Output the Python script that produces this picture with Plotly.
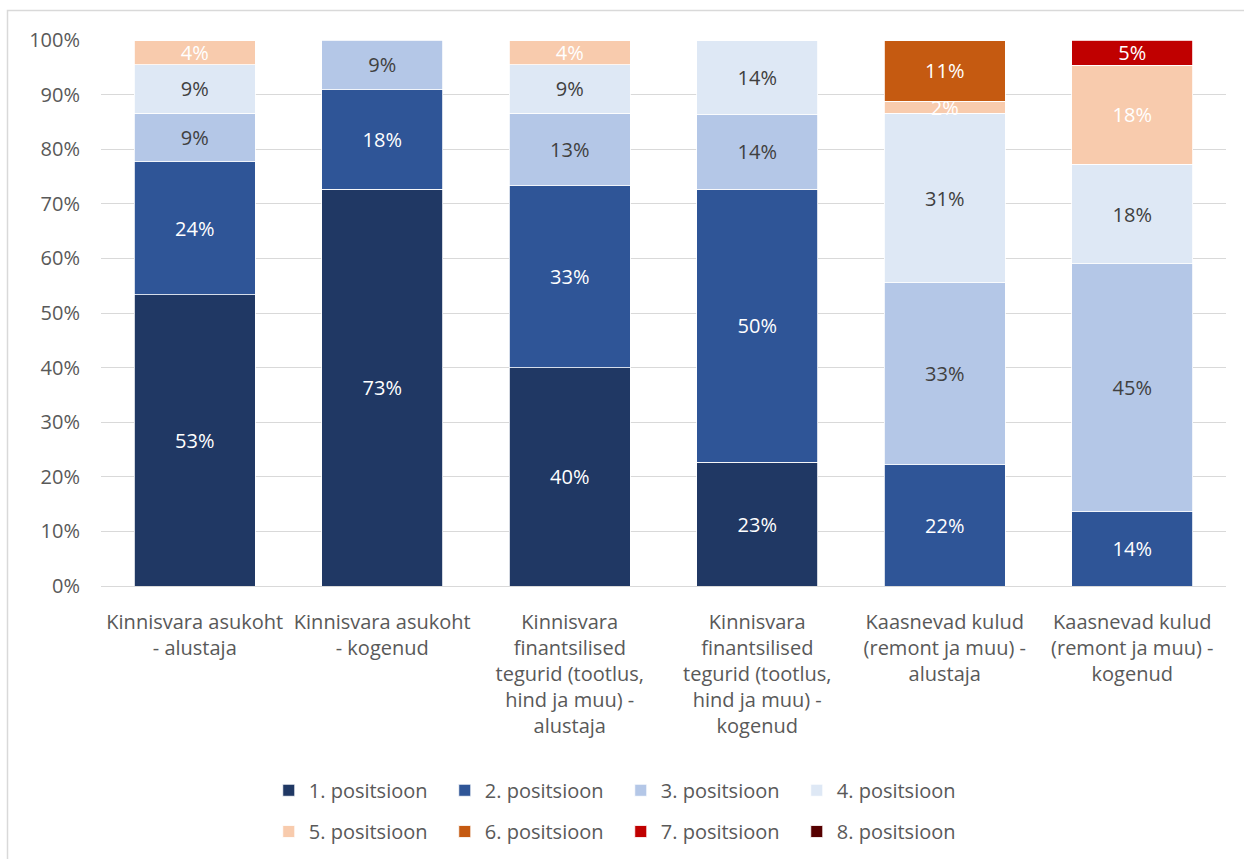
import plotly.graph_objects as go

categories = [
    "Kinnisvara asukoht<br>- alustaja",
    "Kinnisvara asukoht<br>- kogenud",
    "Kinnisvara<br>finantsilised<br>tegurid (tootlus,<br>hind ja muu) -<br>alustaja",
    "Kinnisvara<br>finantsilised<br>tegurid (tootlus,<br>hind ja muu) -<br>kogenud",
    "Kaasnevad kulud<br>(remont ja muu) -<br>alustaja",
    "Kaasnevad kulud<br>(remont ja muu) -<br>kogenud",
]

series_names = [
    "1. positsioon", "2. positsioon", "3. positsioon", "4. positsioon",
    "5. positsioon", "6. positsioon", "7. positsioon", "8. positsioon",
]

# share of respondents (%) per ranking position
pos1 = [53.3, 72.7, 40.0, 22.7, None, None]
pos2 = [24.4, 18.2, 33.3, 50.0, 22.2, 13.6]
pos3 = [8.9, 9.1, 13.3, 13.6, 33.3, 45.4]
pos4 = [8.9, None, 8.9, 13.6, 31.1, 18.2]
pos5 = [4.4, None, 4.4, None, 2.2, 18.2]
pos6 = [None, None, None, None, 11.1, None]
pos7 = [None, None, None, None, None, 4.6]
pos8 = [None, None, None, None, None, None]

values = [pos1, pos2, pos3, pos4, pos5, pos6, pos7, pos8]
colors = ["#203864", "#2F5597", "#B4C7E7", "#DEE8F5",
          "#F8CBAD", "#C55A11", "#C00000", "#560000"]
text_colors = ["white", "white", "#404040", "#404040",
               "white", "white", "white", "white"]

FONT = "Open Sans, sans-serif"
FS = 20

fig = go.Figure()
for i, (name, vals) in enumerate(zip(series_names, values)):
    fig.add_trace(go.Bar(
        name=name,
        x=categories,
        y=vals,
        marker=dict(color=colors[i], line=dict(color="white", width=0.8)),
        texttemplate="%{y:.0f}%",
        textposition="inside",
        insidetextanchor="middle",
        textfont=dict(color=text_colors[i], size=FS, family=FONT),
        legend="legend" if i < 4 else "legend2",
        hoverinfo="skip",
    ))

legend_style = dict(
    orientation="h", xref="container", x=0.499, xanchor="center",
    yref="container", yanchor="middle",
    entrywidth=131, entrywidthmode="pixels", traceorder="normal",
    font=dict(size=FS, color="#595959", family=FONT), itemclick=False,
)

fig.update_layout(
    width=1244,
    height=859,
    barmode="stack",
    bargap=0.355,
    plot_bgcolor="white",
    paper_bgcolor="white",
    font=dict(family=FONT, size=FS, color="#595959"),
    margin=dict(l=101, r=18, t=40, b=273),
    uniformtext=dict(mode="show", minsize=FS),
    legend=dict(legend_style, y=0.080),
    legend2=dict(legend_style, y=0.032),
    shapes=[dict(
        type="rect", xref="paper", yref="paper",
        x0=(7.5 - 101) / 1125, x1=(1260 - 101) / 1125,
        y0=(586 - 870) / 546, y1=(586 - 10.5) / 546,
        line=dict(color="#D9D9D9", width=1.5), fillcolor="rgba(0,0,0,0)",
        layer="below",
    )],
)

fig.update_yaxes(
    range=[0, 100], dtick=10, ticksuffix="%",
    showgrid=True, gridcolor="#D9D9D9", gridwidth=1.3,
    zeroline=True, zerolinecolor="#D9D9D9", zerolinewidth=1.3,
    showline=False, ticklabelstandoff=20,
    tickfont=dict(size=FS, color="#595959", family=FONT),
)
fig.update_xaxes(
    showgrid=False, showline=False, ticklabelstandoff=22,
    tickfont=dict(size=FS, color="#595959", family=FONT),
)

fig.write_html("out.html")
